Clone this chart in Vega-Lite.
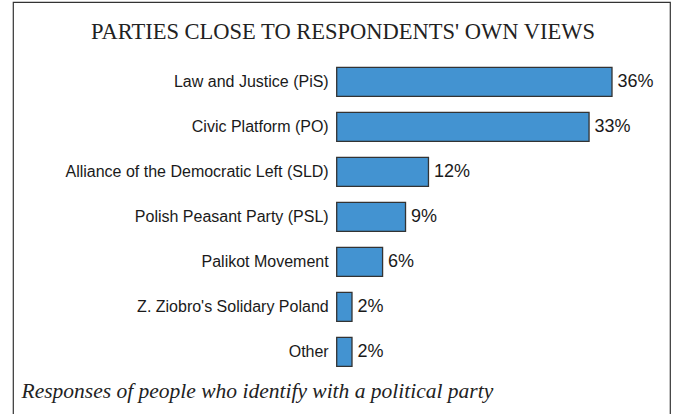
{
  "$schema": "https://vega.github.io/schema/vega-lite/v6.json",
  "autosize": "none",
  "padding": {"left": 13, "top": 2, "right": 6, "bottom": 0},
  "width": 657,
  "height": 412,
  "background": "white",
  "title": {
    "text": "PARTIES CLOSE TO RESPONDENTS' OWN VIEWS",
    "font": "Liberation Serif",
    "fontSize": 22.5,
    "fontWeight": "normal",
    "color": "#222222",
    "anchor": "middle",
    "frame": "group",
    "baseline": "alphabetic",
    "offset": 0,
    "dy": 59,
    "dx": 1.5
  },
  "config": {
    "view": {"stroke": "#333333", "strokeWidth": 1.2, "strokeDash": [1069, 657, 413]}
  },
  "data": {
    "values": [
      {"party": "Law and Justice (PiS)", "share": 0.36},
      {"party": "Civic Platform (PO)", "share": 0.33},
      {"party": "Alliance of the Democratic Left (SLD)", "share": 0.12},
      {"party": "Polish Peasant Party (PSL)", "share": 0.09},
      {"party": "Palikot Movement", "share": 0.06},
      {"party": "Z. Ziobro's Solidary Poland", "share": 0.02},
      {"party": "Other", "share": 0.02}
    ]
  },
  "encoding": {
    "y": {
      "field": "party",
      "type": "nominal",
      "sort": null,
      "scale": {"range": [57.3, 372.3], "paddingInner": 0.356, "paddingOuter": 0.178},
      "axis": {
        "title": null,
        "domain": false,
        "ticks": false,
        "offset": -323.7,
        "labelPadding": 8.5,
        "labelFont": "Liberation Sans",
        "labelFontSize": 16,
        "labelColor": "#1a1a1a",
        "labelLimit": 400
      }
    },
    "x": {
      "field": "share",
      "type": "quantitative",
      "scale": {"domain": [0, 0.36], "range": [323.7, 599], "nice": false, "zero": true},
      "axis": {
        "domain": false,
        "ticks": false,
        "labels": false,
        "grid": false,
        "title": "Responses of people who identify with a political party",
        "titleFont": "Liberation Serif",
        "titleFontStyle": "italic",
        "titleFontWeight": "normal",
        "titleFontSize": 21.5,
        "titleColor": "#222222",
        "titleAnchor": "start",
        "titleAlign": "left",
        "titleBaseline": "alphabetic",
        "titleX": 8,
        "titleY": -17
      }
    }
  },
  "layer": [
    {
      "mark": {"type": "bar", "fill": "#4393d1", "stroke": "#333333", "strokeWidth": 1.3}
    },
    {
      "mark": {"type": "text", "align": "left", "baseline": "middle", "dx": 5.5, "font": "Liberation Sans", "fontSize": 18, "color": "#1a1a1a"},
      "encoding": {"text": {"field": "share", "format": ".0%"}}
    }
  ]
}
